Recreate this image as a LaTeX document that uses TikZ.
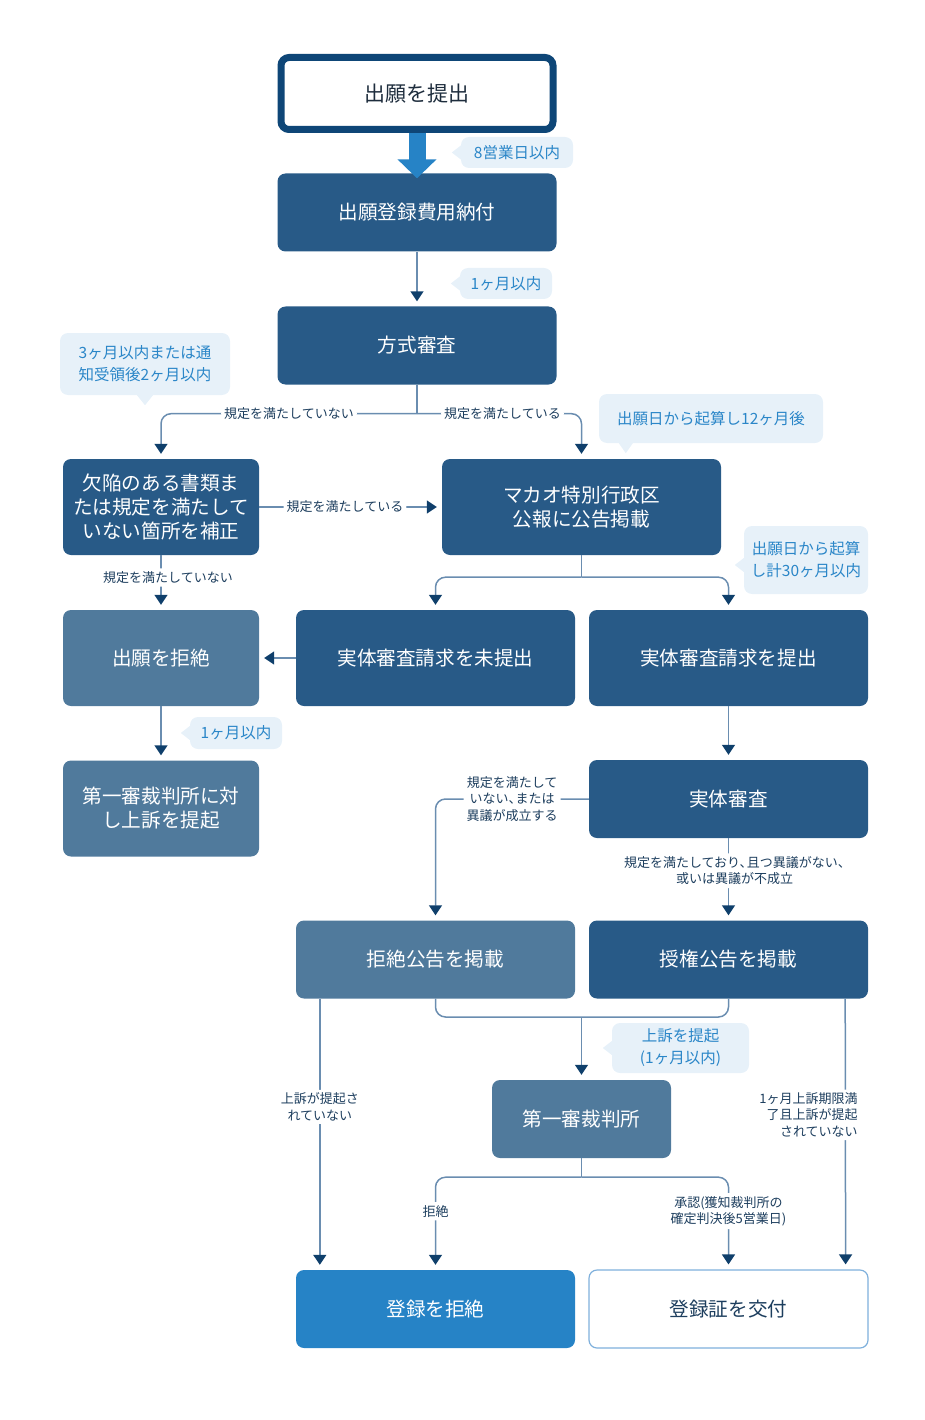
\documentclass[tikz,border=0pt]{standalone}
\usepackage{fontspec}
\setmainfont{Noto Sans CJK JP}
\usetikzlibrary{arrows.meta,positioning}
\usepackage{xcolor}

\definecolor{boxdark}{HTML}{285A87}
\definecolor{boxlight}{HTML}{507A9C}
\definecolor{boxblue}{HTML}{2683C6}
\definecolor{framec}{HTML}{0E4677}
\definecolor{notebg}{HTML}{E7F1F9}
\definecolor{notetext}{HTML}{2A86C8}
\definecolor{labtext}{HTML}{1D3E5E}
\definecolor{linec}{HTML}{6A8DB0}
\definecolor{headc}{HTML}{0F3F6B}
\definecolor{inkc}{HTML}{1E2D3D}
\definecolor{certline}{HTML}{7FB0DC}

\newcommand{\tten}{、\kern-0.45em}

\begin{document}
\begin{tikzpicture}[x=1pt,y=-1pt]
                \tikzset{Box/.style={%
                    shape=rectangle,%
                    rounded corners=8pt,%
                    fill=boxdark,%
                    text=white,%
                    align=center,%
                    inner sep=0pt,%
                    font=\fontsize{19.6}{24}\selectfont,%
                },
                Wide/.style={Box, minimum width=279pt, minimum height=78pt},
                Tall/.style={Box, minimum width=279pt, minimum height=96pt},
                Narrow/.style={Box, minimum width=196pt, minimum height=96pt},
                Note/.style={%
                    shape=rectangle,%
                    rounded corners=8pt,%
                    fill=notebg,%
                    text=notetext,%
                    align=center,%
                    inner sep=0pt,%
                    font=\fontsize{15.5}{22}\selectfont,%
                },
                Lab/.style={fill=white, text=labtext, align=center, inner sep=3pt,
                    font=\fontsize{13}{16.5}\selectfont},
                Conn/.style={draw=linec, line width=1.5pt, rounded corners=10pt},
                Arr/.style={Conn, -{Triangle[width=13pt,length=10pt,color=headc]}, shorten >=5pt},
                }

                \useasboundingbox (0,0) rectangle (924,1420);

                % boxes
                \node[Box, fill=white, draw=framec, line width=7pt, text=inkc,
                      font=\fontsize{21}{24}\selectfont,
                      minimum width=272pt, minimum height=72pt] (apply) at (417,93.5) {出願を提出};
                \node[Wide] (fee) at (417,212.5) {出願登録費用納付};
                \node[Wide] (formal) at (417,345.5) {方式審査};
                \node[Narrow] (correct) at (161,507) {欠陥のある書類ま\\たは規定を満たして\\いない箇所を補正};
                \node[Tall] (gazette) at (581.5,507) {マカオ特別行政区\\公報に公告掲載};
                \node[Narrow, fill=boxlight] (refuse) at (161,658) {出願を拒絶};
                \node[Tall] (nofile) at (435.5,658) {実体審査請求を未提出};
                \node[Tall] (file) at (728.5,658) {実体審査請求を提出};
                \node[Narrow, fill=boxlight] (appeal) at (161,808.5) {第一審裁判所に対\\し上訴を提起};
                \node[Wide] (subst) at (728.5,799) {実体審査};
                \node[Wide, fill=boxlight] (rejpub) at (435.5,959.5) {拒絶公告を掲載};
                \node[Wide] (grantpub) at (728.5,959.5) {授権公告を掲載};
                \node[Box, fill=boxlight, minimum width=179pt, minimum height=78pt] (court) at (581.5,1119) {第一審裁判所};
                \node[Wide, fill=boxblue] (regrej) at (435.5,1309) {登録を拒絶};
                \node[Wide, fill=white, draw=certline, line width=1.2pt, text=labtext] (cert) at (728.5,1309) {登録証を交付};

                % notes
                \node[Note, minimum width=112pt, minimum height=31pt] (n8) at (517,152.5) {8営業日以内};
                \node[Note, minimum width=92pt, minimum height=31pt] (n1a) at (506,283.5) {1ヶ月以内};
                \node[Note, minimum width=170pt, minimum height=62pt] (n3) at (145,364) {3ヶ月以内または通\\知受領後2ヶ月以内};
                \node[Note, minimum width=224pt, minimum height=49pt] (n12) at (711,418.5) {出願日から起算し12ヶ月後};
                \node[Note, minimum width=124pt, minimum height=68pt] (n30) at (806,560) {出願日から起算\\し計30ヶ月以内};
                \node[Note, minimum width=92pt, minimum height=32pt] (n1b) at (236,733) {1ヶ月以内};
                \node[Note, minimum width=137pt, minimum height=50pt] (nap) at (680.5,1048) {上訴を提起\\(1ヶ月以内)};

                \fill[notebg] (n8.west) ++(0,-7) -- ++(-9,7) -- ++(9,7) -- cycle;
                \fill[notebg] (n1a.west) ++(0,-7) -- ++(-9,7) -- ++(9,7) -- cycle;
                \fill[notebg] (n3.south) ++(-8,0) -- ++(8,10) -- ++(8,-10) -- cycle;
                \fill[notebg] ([xshift=20pt]n12.south west) -- ++(7,10) -- ++(7,-10) -- cycle;
                \fill[notebg] (n30.west) ++(0,-2) -- ++(-9,7) -- ++(9,7) -- cycle;
                \fill[notebg] (n1b.west) ++(0,-7) -- ++(-9,7) -- ++(9,7) -- cycle;
                \fill[notebg] (nap.west) ++(0,-7) -- ++(-9,7) -- ++(9,7) -- cycle;

                % connectors
                \draw[line width=17pt, draw=boxblue, -{Triangle[width=38pt,length=19pt]}]
                    (apply.south) -- ([yshift=-5pt]fee.north);
                \path (fee) edge[Arr] (formal);

                \draw[Conn] (formal.south) -- ++(0,29) coordinate (fsplit);
                \draw[Arr] (fsplit) -| node[Lab, pos=0.25]{規定を満たしていない} (correct.north);
                \draw[Arr] (fsplit) -| node[Lab, pos=0.26]{規定を満たしている} (gazette.north);

                \path (correct) edge[Arr] node[Lab, pos=0.47]{規定を満たしている} (gazette);
                \path (correct) edge[Arr] node[Lab, xshift=7pt, yshift=5pt]{規定を満たしていない} (refuse);

                \draw[Conn] (gazette.south) -- ++(0,22) coordinate (gsplit);
                \draw[Arr] (gsplit) -| (nofile.north);
                \draw[Arr] (gsplit) -| (file.north);

                \path (nofile) edge[Arr] (refuse);
                \path (refuse) edge[Arr] (appeal);
                \path (file) edge[Arr] (subst);

                \draw[Arr] (subst.west) -| node[Lab, pos=0.25]{規定を満たして\\いない\tten または\\異議が成立する} (rejpub.north);
                \path (subst) edge[Arr] node[Lab, pos=0.42, xshift=6pt, yshift=2pt]{規定を満たしており\tten 且つ異議がない\tten\\或いは異議が不成立} (grantpub);

                \coordinate (merge) at (581.5,1017);
                \draw[Conn] (rejpub.south) |- (merge) -| (grantpub.south);
                \draw[Arr] (merge) -- (court.north);

                \draw[Arr] ([xshift=24pt]rejpub.south west) -- node[Lab, pos=0.41, yshift=3pt]{上訴が提起さ\\れていない} ([xshift=24pt]regrej.north west);
                \draw[Arr] ([xshift=-23pt]grantpub.south east) -- node[Lab, pos=0.44, anchor=east, xshift=16pt, yshift=3pt, align=right]{1ヶ月上訴期限満\\了且上訴が提起\\されていない} ([xshift=-23pt]cert.north east);

                \draw[Conn] (court.south) -- ++(0,19) coordinate (csplit);
                \draw[Arr] (csplit) -| node[Lab, pos=0.7, yshift=3pt]{拒絶} (regrej.north);
                \draw[Arr] (csplit) -| node[Lab, pos=0.7, yshift=3pt]{承認(獲知裁判所の\\確定判決後5営業日)} (cert.north);
            \end{tikzpicture}
\end{document}
